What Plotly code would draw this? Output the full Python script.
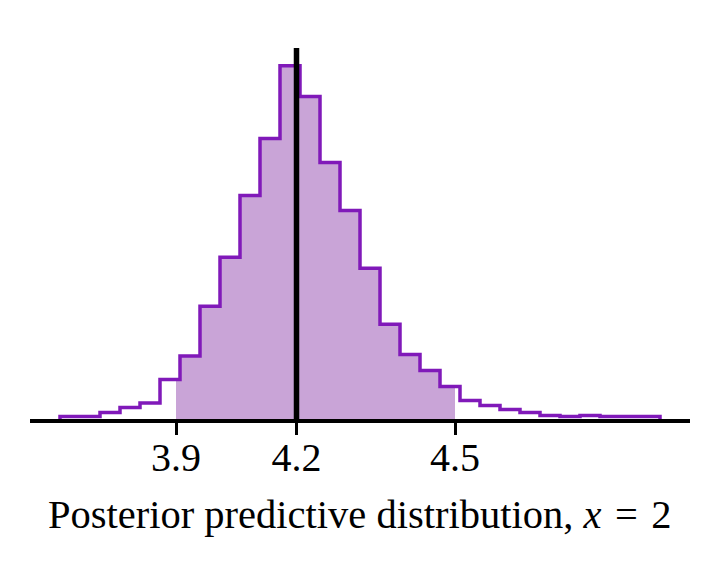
import numpy as np
import plotly.graph_objects as go

# ---- data ----
bin_start = 3.717
bin_width = 0.04
counts = [2.5, 2.5, 6.5, 11.5, 16, 39.5, 63, 113, 162, 224, 281, 354, 323, 257,
          209, 151, 95, 64.5, 48.5, 32.5, 18.5, 13.5, 9.5, 6.5, 3.5, 2.5, 3.5,
          2.5, 2.5, 2.5]
interval_low = 3.949
interval_mid = 4.19
interval_high = 4.507
tick_vals = [interval_low, interval_mid, interval_high]
tick_text = ["3.9", "4.2", "4.5"]
x_label = "Posterior predictive distribution, <i>x</i>\u2004=\u20042"

line_color = "rgb(128,25,185)"
fill_color = "rgb(201,164,215)"
font_family = "Liberation Serif"

counts = np.array(counts, dtype=float)
edges = bin_start + bin_width * np.arange(len(counts) + 1)

# step outline
xs = [edges[0]] + list(edges[:-1]) + [edges[-1]]
ys = [0.0] + list(counts) + [0.0]

# shaded interval polygon following the histogram
i_lo = int(np.searchsorted(edges, interval_low, side="right") - 1)
i_hi = int(np.searchsorted(edges, interval_high, side="right") - 1)
px = [interval_low, interval_low]
py = [0.0, counts[i_lo]]
for k in range(i_lo + 1, i_hi + 1):
    px += [edges[k], edges[k]]
    py += [counts[k - 1], counts[k]]
px += [interval_high, interval_high]
py += [counts[i_hi], 0.0]

fig = go.Figure()
fig.add_trace(go.Scatter(x=px, y=py, mode="lines", fill="toself",
                         fillcolor=fill_color, line=dict(width=0),
                         hoverinfo="skip", showlegend=False))
fig.add_trace(go.Scatter(x=xs, y=ys, mode="lines", line_shape="hv",
                         line=dict(color=line_color, width=3.5),
                         showlegend=False))

fig.add_shape(type="line", x0=interval_mid, x1=interval_mid, y0=0, y1=1,
              xref="x", yref="paper", line=dict(color="black", width=5.5),
              layer="above")

span = edges[-1] - edges[0]
fig.update_xaxes(range=[edges[0] - 0.05 * span, edges[-1] + 0.05 * span],
                 showgrid=False, zeroline=False, showline=True,
                 linecolor="black", linewidth=3.5,
                 tickmode="array", tickvals=tick_vals, ticktext=tick_text,
                 ticks="outside", ticklen=12, tickwidth=3, tickcolor="black",
                 ticklabelstandoff=-12,
                 tickfont=dict(family=font_family, size=40, color="black"))
fig.update_yaxes(range=[0, counts.max() * 1.05], visible=False)

fig.add_annotation(text=x_label, xref="paper", yref="paper", x=0.5,
                   y=(420 - 515.5) / 371, xanchor="center", yanchor="middle",
                   showarrow=False,
                   font=dict(family=font_family, size=40.5, color="black"))

fig.update_layout(width=720, height=570, plot_bgcolor="white",
                  paper_bgcolor="white",
                  margin=dict(l=30, r=30, t=48, b=151))

fig.write_html("out.html", config={"displayModeBar": False},
               post_script="document.body.style.margin='0px';")
